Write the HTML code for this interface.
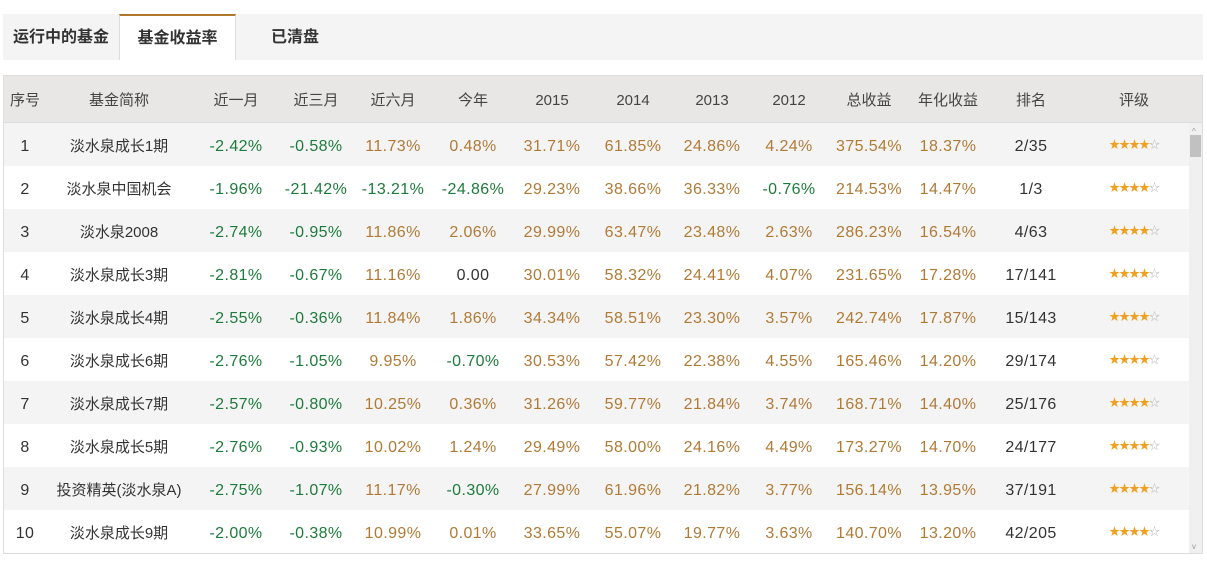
<!DOCTYPE html>
<html><head><meta charset="utf-8"><style>
body{margin:0;width:1207px;height:576px;background:#fff;font-family:"Liberation Sans","Noto Sans CJK SC",sans-serif;position:relative;overflow:hidden}
.tabs{position:absolute;left:3px;top:14px;width:1200px;height:46px;background:#f4f4f4}
.tab{position:absolute;top:0;height:46px;line-height:48px;font-size:16px;font-weight:bold;color:#333;text-align:center}
.tab.active{background:#fff;border-top:2px solid #b0782f;border-left:1px solid #ddd;border-right:1px solid #ddd;height:44px;line-height:46px}
.tbl{position:absolute;left:3px;top:75px;width:1198px;height:477px;border:1px solid #ddd;overflow:hidden}
.hdr{position:absolute;left:0;top:0;width:1198px;height:46px;background:#e8e7e5;border-bottom:1px solid #ddd}
.c{position:absolute;transform:translateX(-50%);white-space:nowrap;font-size:15px}
.hdr .c{top:0;height:48px;line-height:50px;color:#444}
.row{position:absolute;left:0;width:1186px;height:43px}
.row .c{top:0;height:43px;line-height:47px;font-size:16px;letter-spacing:0.4px}
.row .c.cn{font-size:15px;letter-spacing:0}
.g{color:#1e7a3c}.o{color:#b07a35}.k{color:#333}
.row .stars{font-size:11px;color:#f0a020;letter-spacing:-1px;line-height:45px}
.stars span{color:#bbb}
.sb{position:absolute;left:1185px;top:47px;width:13px;height:430px;background:#f0f0f0}
</style></head><body>
<div class="tabs">
<div class="tab" style="left:0;width:116px">运行中的基金</div>
<div class="tab active" style="left:116px;width:115px">基金收益率</div>
<div class="tab" style="left:232px;width:120px">已清盘</div>
</div>
<div class="tbl">
<div class="hdr" id="hdr"></div>
<div id="body"></div>
<div class="sb">
<div style="position:absolute;left:3px;top:4px;font-size:8px;color:#999">^</div>
<div style="position:absolute;left:1px;top:12px;width:11px;height:22px;background:#c1c1c1"></div>
<div style="position:absolute;left:3px;bottom:2px;font-size:8px;color:#999">v</div>
</div>
</div>
<script>
const headers=["序号","基金简称","近一月","近三月","近六月","今年","2015","2014","2013","2012","总收益","年化收益","排名","评级"];
const names=["淡水泉成长1期","淡水泉中国机会","淡水泉2008","淡水泉成长3期","淡水泉成长4期","淡水泉成长6期","淡水泉成长7期","淡水泉成长5期","投资精英(淡水泉A)","淡水泉成长9期"];
const m1=["-2.42%","-1.96%","-2.74%","-2.81%","-2.55%","-2.76%","-2.57%","-2.76%","-2.75%","-2.00%"];
const m3=["-0.58%","-21.42%","-0.95%","-0.67%","-0.36%","-1.05%","-0.80%","-0.93%","-1.07%","-0.38%"];
const m6=["11.73%","-13.21%","11.86%","11.16%","11.84%","9.95%","10.25%","10.02%","11.17%","10.99%"];
const ytd=["0.48%","-24.86%","2.06%","0.00","1.86%","-0.70%","0.36%","1.24%","-0.30%","0.01%"];
const y2015=["31.71%","29.23%","29.99%","30.01%","34.34%","30.53%","31.26%","29.49%","27.99%","33.65%"];
const y2014=["61.85%","38.66%","63.47%","58.32%","58.51%","57.42%","59.77%","58.00%","61.96%","55.07%"];
const y2013=["24.86%","36.33%","23.48%","24.41%","23.30%","22.38%","21.84%","24.16%","21.82%","19.77%"];
const y2012=["4.24%","-0.76%","2.63%","4.07%","3.57%","4.55%","3.74%","4.49%","3.77%","3.63%"];
const total=["375.54%","214.53%","286.23%","231.65%","242.74%","165.46%","168.71%","173.27%","156.14%","140.70%"];
const annual=["18.37%","14.47%","16.54%","17.28%","17.87%","14.20%","14.40%","14.70%","13.95%","13.20%"];
const ranks=["2/35","1/3","4/63","17/141","15/143","29/174","25/176","24/177","37/191","42/205"];
const cx=[21,115,232,312,389,469,548,629,708,785,865,944,1027,1130];
const hdr=document.getElementById('hdr');
headers.forEach((h,i)=>{const d=document.createElement('div');d.className='c';d.style.left=cx[i]+'px';d.textContent=h;


hdr.appendChild(d);});
const body=document.getElementById('body');
const cls=v=>v.startsWith('-')?'g':(parseFloat(v)===0?'k':'o');
names.forEach((n,r)=>{
 const row=document.createElement('div');row.className='row';
 
 
 row.style.top=(47+r*43)+'px';row.style.background=r%2==0?'#f5f4f4':'#fff';
 const vals=[String(r+1),n,m1[r],m3[r],m6[r],ytd[r],y2015[r],y2014[r],y2013[r],y2012[r],total[r],annual[r],ranks[r]];
 vals.forEach((v,i)=>{const d=document.createElement('div');d.className='c '+(i<2||i==12?'k':cls(v))+(i==1?' cn':'');d.style.left=cx[i]+'px';d.textContent=v;
 
 
 row.appendChild(d);});
 const s=document.createElement('div');s.className='c stars';s.style.left=cx[13]+'px';s.innerHTML='★★★★<span>☆</span>';
 
 
 row.appendChild(s);
 body.appendChild(row);
});
</script>
</body></html>
